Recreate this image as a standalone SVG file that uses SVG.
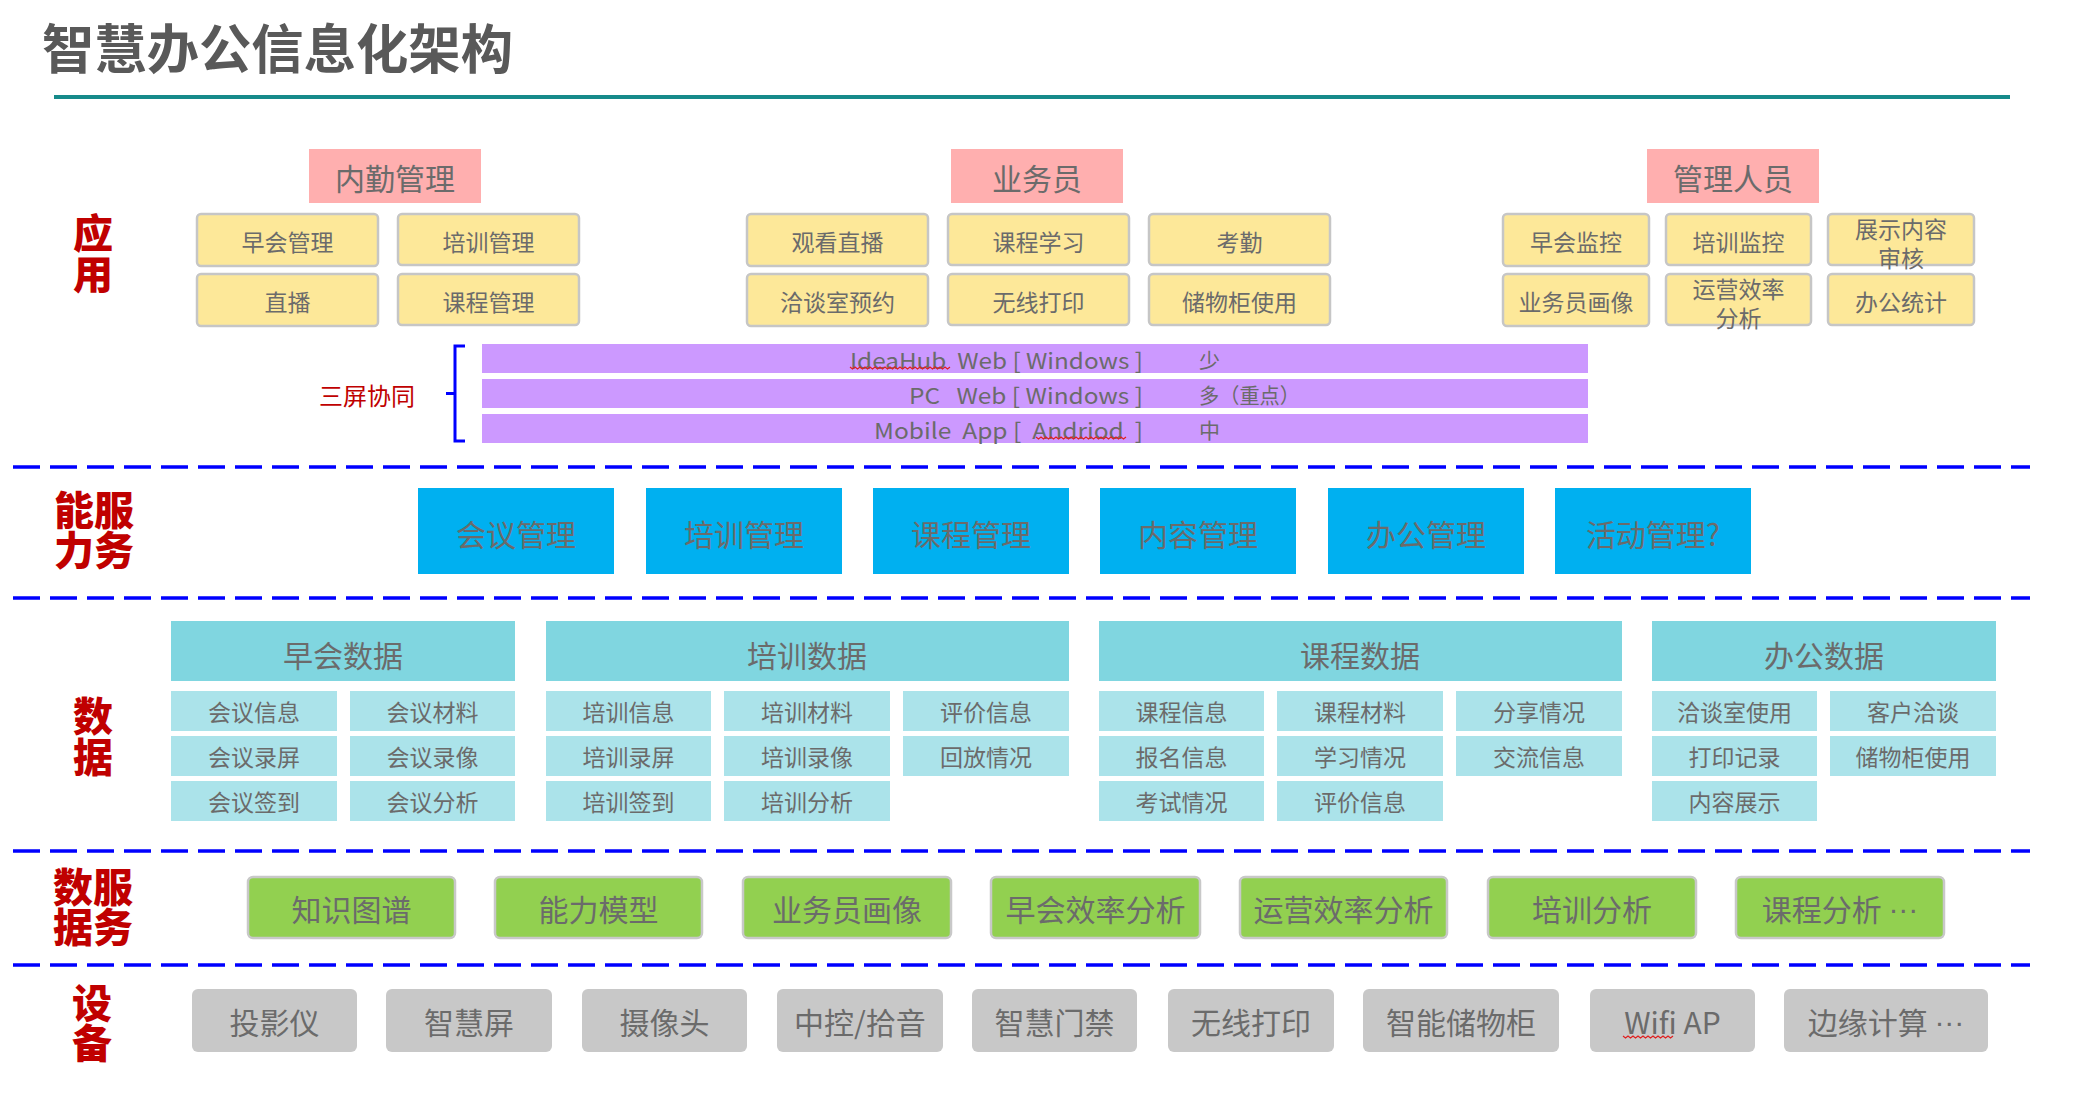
<svg xmlns="http://www.w3.org/2000/svg" width="2084" height="1104" viewBox="0 0 2084 1104">
<style>
text{font-family:"Noto Sans CJK SC","Noto Sans",sans-serif;}
.t{fill:#6b6b6b;text-anchor:middle;dominant-baseline:central;}
.lbl{fill:#c00000;font-weight:900;font-size:40px;text-anchor:middle;}
.hdr{fill:#ffafaf;}
.app{fill:#fde899;stroke:#c6c6c6;stroke-width:2.5;}
.bar{fill:#cc99ff;}
.svc{fill:#00b0f0;}
.dh{fill:#80d6e0;}
.dc{fill:#abe3ea;}
.grn{fill:#92d050;stroke:#c8c8c8;stroke-width:2.5;}
.dev{fill:#c8c8c8;}
.dash{stroke:#0000ff;stroke-width:3.5;stroke-dasharray:27 10;fill:none;}
.f30{font-size:30px;}
.f24{font-size:23px;}
.dots{font-family:"Liberation Sans",sans-serif;}
.squig{fill:none;stroke:#e02020;stroke-width:1.2;}
</style>
<rect width="2084" height="1104" fill="#ffffff"/>
<g id="title">
<text x="42" y="46" font-size="53" font-weight="bold" fill="#595959" dominant-baseline="central" textLength="471" lengthAdjust="spacingAndGlyphs">智慧办公信息化架构</text>
<line x1="54" y1="97" x2="2010" y2="97" stroke="#168a8a" stroke-width="4"/>
</g>
<g id="connectors">
<line class="dash" x1="13" y1="467" x2="2030" y2="467"/>
<line class="dash" x1="13" y1="598" x2="2030" y2="598"/>
<line class="dash" x1="13" y1="851" x2="2030" y2="851"/>
<line class="dash" x1="13" y1="965" x2="2030" y2="965"/>
<path d="M465,346 H455 V441 H465 M455,393.5 H446" fill="none" stroke="#0000ff" stroke-width="3"/>
</g>
<g id="layer-labels">
<text class="lbl" x="93" y="248"><tspan x="93">应</tspan><tspan x="93" dy="41">用</tspan></text>
<text class="lbl" x="94" y="525"><tspan x="94">能服</tspan><tspan x="94" dy="40">力务</tspan></text>
<text class="lbl" x="93" y="731"><tspan x="93">数</tspan><tspan x="93" dy="41">据</tspan></text>
<text class="lbl" x="93" y="902"><tspan x="93">数服</tspan><tspan x="93" dy="40">据务</tspan></text>
<text class="lbl" x="92" y="1018"><tspan x="92">设</tspan><tspan x="92" dy="40">备</tspan></text>
</g>
<g id="app-neiqin">
<rect class="hdr" x="309" y="149" width="172" height="54"/>
<text class="t f30" x="395" y="177">内勤管理</text>
<rect class="app" x="197" y="214" width="181" height="52" rx="4"/><text class="t f24" x="287.5" y="241">早会管理</text>
<rect class="app" x="398" y="214" width="181" height="51" rx="4"/><text class="t f24" x="488.5" y="241">培训管理</text>
<rect class="app" x="197" y="274" width="181" height="52" rx="4"/><text class="t f24" x="287.5" y="301">直播</text>
<rect class="app" x="398" y="274" width="181" height="51" rx="4"/><text class="t f24" x="488.5" y="301">课程管理</text>
</g>
<g id="app-yewuyuan">
<rect class="hdr" x="951" y="149" width="172" height="54"/>
<text class="t f30" x="1037" y="177">业务员</text>
<rect class="app" x="747" y="214" width="181" height="52" rx="4"/><text class="t f24" x="837.5" y="241">观看直播</text>
<rect class="app" x="948" y="214" width="181" height="51" rx="4"/><text class="t f24" x="1038.5" y="241">课程学习</text>
<rect class="app" x="1149" y="214" width="181" height="51" rx="4"/><text class="t f24" x="1239.5" y="241">考勤</text>
<rect class="app" x="747" y="274" width="181" height="52" rx="4"/><text class="t f24" x="837.5" y="301">洽谈室预约</text>
<rect class="app" x="948" y="274" width="181" height="51" rx="4"/><text class="t f24" x="1038.5" y="301">无线打印</text>
<rect class="app" x="1149" y="274" width="181" height="51" rx="4"/><text class="t f24" x="1239.5" y="301">储物柜使用</text>
</g>
<g id="app-guanli">
<rect class="hdr" x="1647" y="149" width="172" height="54"/>
<text class="t f30" x="1733" y="177">管理人员</text>
<rect class="app" x="1503" y="214" width="146" height="52" rx="4"/><text class="t f24" x="1576" y="241">早会监控</text>
<rect class="app" x="1666" y="214" width="145" height="51" rx="4"/><text class="t f24" x="1738.5" y="241">培训监控</text>
<rect class="app" x="1828" y="214" width="146" height="51" rx="4"/><text class="t f24" x="1901" y="228">展示内容</text><text class="t f24" x="1901" y="257">审核</text>
<rect class="app" x="1503" y="274" width="146" height="52" rx="4"/><text class="t f24" x="1576" y="301">业务员画像</text>
<rect class="app" x="1666" y="274" width="145" height="51" rx="4"/><text class="t f24" x="1738.5" y="288">运营效率</text><text class="t f24" x="1738.5" y="317">分析</text>
<rect class="app" x="1828" y="274" width="146" height="51" rx="4"/><text class="t f24" x="1901" y="301">办公统计</text>
</g>
<g id="three-screen">
<text x="367" y="394" font-size="24" fill="#c00000" text-anchor="middle" dominant-baseline="central">三屏协同</text>
<rect class="bar" x="482" y="344" width="1106" height="29"/>
<rect class="bar" x="482" y="379" width="1106" height="29"/>
<rect class="bar" x="482" y="414" width="1106" height="29"/>
<text x="850" y="358.5" font-size="22" fill="#6b6b6b" dominant-baseline="central" xml:space="preserve" textLength="293" lengthAdjust="spacingAndGlyphs">IdeaHub  Web [ Windows ]</text>
<text x="909" y="393.5" font-size="22" fill="#6b6b6b" dominant-baseline="central" xml:space="preserve" textLength="234" lengthAdjust="spacingAndGlyphs">PC   Web [ Windows ]</text>
<text x="874" y="428.5" font-size="22" fill="#6b6b6b" dominant-baseline="central" xml:space="preserve" textLength="269" lengthAdjust="spacingAndGlyphs">Mobile  App [  Andriod  ]</text>
<text x="1199" y="358.5" font-size="21" fill="#6b6b6b" dominant-baseline="central">少</text>
<text x="1199" y="393.5" font-size="21" fill="#6b6b6b" dominant-baseline="central" textLength="101" lengthAdjust="spacingAndGlyphs">多（重点）</text>
<text x="1199" y="428.5" font-size="21" fill="#6b6b6b" dominant-baseline="central">中</text>
<path class="squig" d="M850,367 l2.5,2 l2.5,-2 l2.5,2 l2.5,-2 l2.5,2 l2.5,-2 l2.5,2 l2.5,-2 l2.5,2 l2.5,-2 l2.5,2 l2.5,-2 l2.5,2 l2.5,-2 l2.5,2 l2.5,-2 l2.5,2 l2.5,-2 l2.5,2 l2.5,-2 l2.5,2 l2.5,-2 l2.5,2 l2.5,-2 l2.5,2 l2.5,-2 l2.5,2 l2.5,-2 l2.5,2 l2.5,-2 l2.5,2 l2.5,-2 l2.5,2 l2.5,-2 l2.5,2 l2.5,-2 l2.5,2 l2.5,-2 l2.5,2 l2.5,-2"/>
<path class="squig" d="M1036,437 l2.5,2 l2.5,-2 l2.5,2 l2.5,-2 l2.5,2 l2.5,-2 l2.5,2 l2.5,-2 l2.5,2 l2.5,-2 l2.5,2 l2.5,-2 l2.5,2 l2.5,-2 l2.5,2 l2.5,-2 l2.5,2 l2.5,-2 l2.5,2 l2.5,-2 l2.5,2 l2.5,-2 l2.5,2 l2.5,-2 l2.5,2 l2.5,-2 l2.5,2 l2.5,-2 l2.5,2 l2.5,-2 l2.5,2 l2.5,-2 l2.5,2 l2.5,-2 l2.5,2 l2.5,-2"/>
</g>
<g id="services">
<rect class="svc" x="418" y="488" width="196" height="86"/><text class="t f30" x="516" y="533">会议管理</text>
<rect class="svc" x="646" y="488" width="196" height="86"/><text class="t f30" x="744" y="533">培训管理</text>
<rect class="svc" x="873" y="488" width="196" height="86"/><text class="t f30" x="971" y="533">课程管理</text>
<rect class="svc" x="1100" y="488" width="196" height="86"/><text class="t f30" x="1198" y="533">内容管理</text>
<rect class="svc" x="1328" y="488" width="196" height="86"/><text class="t f30" x="1426" y="533">办公管理</text>
<rect class="svc" x="1555" y="488" width="196" height="86"/><text class="t f30" x="1653" y="533">活动管理?</text>
</g>
<g id="data-zaohui">
<rect class="dh" x="171" y="621" width="344" height="60"/><text class="t f30" x="343" y="654">早会数据</text>
<rect class="dc" x="171" y="691" width="166" height="40"/><text class="t f24" x="254" y="711">会议信息</text>
<rect class="dc" x="350" y="691" width="165" height="40"/><text class="t f24" x="432.5" y="711">会议材料</text>
<rect class="dc" x="171" y="736" width="166" height="40"/><text class="t f24" x="254" y="756">会议录屏</text>
<rect class="dc" x="350" y="736" width="165" height="40"/><text class="t f24" x="432.5" y="756">会议录像</text>
<rect class="dc" x="171" y="781" width="166" height="40"/><text class="t f24" x="254" y="801">会议签到</text>
<rect class="dc" x="350" y="781" width="165" height="40"/><text class="t f24" x="432.5" y="801">会议分析</text>
</g>
<g id="data-peixun">
<rect class="dh" x="546" y="621" width="523" height="60"/><text class="t f30" x="807" y="654">培训数据</text>
<rect class="dc" x="546" y="691" width="165" height="40"/><text class="t f24" x="628.5" y="711">培训信息</text>
<rect class="dc" x="724" y="691" width="166" height="40"/><text class="t f24" x="807" y="711">培训材料</text>
<rect class="dc" x="903" y="691" width="166" height="40"/><text class="t f24" x="986" y="711">评价信息</text>
<rect class="dc" x="546" y="736" width="165" height="40"/><text class="t f24" x="628.5" y="756">培训录屏</text>
<rect class="dc" x="724" y="736" width="166" height="40"/><text class="t f24" x="807" y="756">培训录像</text>
<rect class="dc" x="903" y="736" width="166" height="40"/><text class="t f24" x="986" y="756">回放情况</text>
<rect class="dc" x="546" y="781" width="165" height="40"/><text class="t f24" x="628.5" y="801">培训签到</text>
<rect class="dc" x="724" y="781" width="166" height="40"/><text class="t f24" x="807" y="801">培训分析</text>
</g>
<g id="data-kecheng">
<rect class="dh" x="1099" y="621" width="523" height="60"/><text class="t f30" x="1360" y="654">课程数据</text>
<rect class="dc" x="1099" y="691" width="165" height="40"/><text class="t f24" x="1181.5" y="711">课程信息</text>
<rect class="dc" x="1277" y="691" width="166" height="40"/><text class="t f24" x="1360" y="711">课程材料</text>
<rect class="dc" x="1456" y="691" width="166" height="40"/><text class="t f24" x="1539" y="711">分享情况</text>
<rect class="dc" x="1099" y="736" width="165" height="40"/><text class="t f24" x="1181.5" y="756">报名信息</text>
<rect class="dc" x="1277" y="736" width="166" height="40"/><text class="t f24" x="1360" y="756">学习情况</text>
<rect class="dc" x="1456" y="736" width="166" height="40"/><text class="t f24" x="1539" y="756">交流信息</text>
<rect class="dc" x="1099" y="781" width="165" height="40"/><text class="t f24" x="1181.5" y="801">考试情况</text>
<rect class="dc" x="1277" y="781" width="166" height="40"/><text class="t f24" x="1360" y="801">评价信息</text>
</g>
<g id="data-bangong">
<rect class="dh" x="1652" y="621" width="344" height="60"/><text class="t f30" x="1824" y="654">办公数据</text>
<rect class="dc" x="1652" y="691" width="165" height="40"/><text class="t f24" x="1734.5" y="711">洽谈室使用</text>
<rect class="dc" x="1830" y="691" width="166" height="40"/><text class="t f24" x="1913" y="711">客户洽谈</text>
<rect class="dc" x="1652" y="736" width="165" height="40"/><text class="t f24" x="1734.5" y="756">打印记录</text>
<rect class="dc" x="1830" y="736" width="166" height="40"/><text class="t f24" x="1913" y="756">储物柜使用</text>
<rect class="dc" x="1652" y="781" width="165" height="40"/><text class="t f24" x="1734.5" y="801">内容展示</text>
</g>
<g id="data-services">
<rect class="grn" x="248" y="877" width="207" height="61" rx="5"/><text class="t f30" x="351.5" y="908">知识图谱</text>
<rect class="grn" x="495" y="877" width="207" height="61" rx="5"/><text class="t f30" x="598.5" y="908">能力模型</text>
<rect class="grn" x="743" y="877" width="208" height="61" rx="5"/><text class="t f30" x="847" y="908">业务员画像</text>
<rect class="grn" x="991" y="877" width="209" height="61" rx="5"/><text class="t f30" x="1095.5" y="908">早会效率分析</text>
<rect class="grn" x="1240" y="877" width="207" height="61" rx="5"/><text class="t f30" x="1343.5" y="908">运营效率分析</text>
<rect class="grn" x="1488" y="877" width="208" height="61" rx="5"/><text class="t f30" x="1592" y="908">培训分析</text>
<rect class="grn" x="1736" y="877" width="208" height="61" rx="5"/><text class="t f30" x="1840" y="908">课程分析 <tspan class="dots">···</tspan></text>
</g>
<g id="devices">
<rect class="dev" x="192" y="989" width="165" height="63" rx="6"/><text class="t f30" x="274.5" y="1021">投影仪</text>
<rect class="dev" x="386" y="989" width="166" height="63" rx="6"/><text class="t f30" x="469" y="1021">智慧屏</text>
<rect class="dev" x="582" y="989" width="165" height="63" rx="6"/><text class="t f30" x="664.5" y="1021">摄像头</text>
<rect class="dev" x="777" y="989" width="166" height="63" rx="6"/><text class="t f30" x="860" y="1021">中控/拾音</text>
<rect class="dev" x="972" y="989" width="165" height="63" rx="6"/><text class="t f30" x="1054.5" y="1021">智慧门禁</text>
<rect class="dev" x="1168" y="989" width="166" height="63" rx="6"/><text class="t f30" x="1251" y="1021">无线打印</text>
<rect class="dev" x="1363" y="989" width="196" height="63" rx="6"/><text class="t f30" x="1461" y="1021">智能储物柜</text>
<rect class="dev" x="1590" y="989" width="165" height="63" rx="6"/><text class="t f30" x="1672.5" y="1021">Wifi AP</text>
<rect class="dev" x="1784" y="989" width="204" height="63" rx="6"/><text class="t f30" x="1886" y="1021">边缘计算 <tspan class="dots">···</tspan></text>
<path class="squig" d="M1623,1036 l2.5,2 l2.5,-2 l2.5,2 l2.5,-2 l2.5,2 l2.5,-2 l2.5,2 l2.5,-2 l2.5,2 l2.5,-2 l2.5,2 l2.5,-2 l2.5,2 l2.5,-2 l2.5,2 l2.5,-2 l2.5,2 l2.5,-2 l2.5,2 l2.5,-2"/>
</g>
</svg>
